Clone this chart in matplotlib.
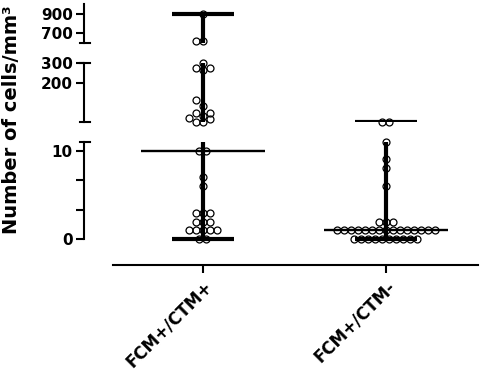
import numpy as np
import matplotlib
matplotlib.use('Agg')
import matplotlib.pyplot as plt

# data (cells/mm3)
groups = ['FCM+/CTM+', 'FCM+/CTM-']
ctm_pos = [0, 0, 1, 1, 1, 1, 1, 2, 2, 2, 3, 3, 3, 6, 7, 10, 10,
           12, 14, 27, 33, 43, 55, 57, 90, 119, 266, 274, 274, 300,
           620, 625, 900]
ctm_neg = [0, 0, 0, 0, 0, 0, 0, 0, 0, 0,
           1, 1, 1, 1, 1, 1, 1, 1, 1, 1, 1, 1, 1, 1, 1,
           2, 2, 2, 6, 8, 9, 11, 12, 12]
values = [ctm_pos, ctm_neg]

# broken y axis: segments from top to bottom
seg_limits = [(600, 1000), (12, 300), (0, 11)]
seg_ticks = [[700, 900], [200, 300], [0, 10]]
bottom_minor = [10 / 3, 20 / 3]

W, H = 482, 377
fig = plt.figure(figsize=(W / 100, H / 100), dpi=100)
plt.rcParams['font.family'] = 'DejaVu Sans'

left_px, right_px = 84, 478
xlim = (-0.65, 1.503)
xscale = (right_px - left_px) / (xlim[1] - xlim[0])
# pixel rows of each segment's upper / lower limit
seg_px = [(4, 43), (63, 122), (141.7, 239.3)]
bottom_margin = 0.25  # room below 0 so the min caps are not clipped

mk = 7.0  # marker spacing in px
cols = [0, -1, 1, -2, 2, -3, 3, -4, 4, -5, 5, -6, 6]


def free(cands, y, placed, d):
    return all(np.hypot(c - px, y - py) >= 0.85 * d
               for c in cands for px, py in placed)


def swarm_offsets(vals, px_per_unit, d):
    # equal values sit in one centred row, otherwise nearest free column
    vals = np.asarray(vals, float)
    out = np.zeros(len(vals))
    placed = []
    for v in np.unique(vals):
        idx = np.where(vals == v)[0]
        y = v * px_per_unit
        base = (np.arange(len(idx)) - (len(idx) - 1) / 2) * d
        if free(base, y, placed, d):
            out[idx] = base
            placed += [(c, y) for c in base]
            continue
        for i in idx:
            for k in cols:
                if free([k * d], y, placed, d):
                    break
            out[i] = k * d
            placed.append((k * d, y))
    return out


for i, (lo, hi) in enumerate(seg_limits):
    top, bot = seg_px[i]
    ppu = (bot - top) / (hi - lo)
    ylo = lo - bottom_margin if i == 2 else lo
    bot_ax = bot + (lo - ylo) * ppu
    ax = fig.add_axes([left_px / W, 1 - bot_ax / H,
                       (right_px - left_px) / W, (bot_ax - top) / H])
    ax.set_xlim(*xlim)
    ax.set_ylim(ylo, hi)
    ax.patch.set_visible(False)
    for s in ['top', 'right']:
        ax.spines[s].set_visible(False)
    ax.spines['left'].set_linewidth(1.5)
    ax.spines['left'].set_bounds(lo, hi)
    ax.set_yticks(seg_ticks[i])
    ax.set_yticklabels([str(t) for t in seg_ticks[i]], fontsize=11,
                       fontweight='bold')
    ax.tick_params(axis='y', length=6, width=1.5, pad=2)

    def inside(v):
        return lo <= v <= hi

    for g, vals in enumerate(values):
        vals = np.asarray(vals, float)
        sel = vals[(vals >= lo) & (vals <= hi)]
        offs = swarm_offsets(sel, ppu, mk) / xscale
        ax.plot(g + offs, sel, 'o', ms=5, mfc='none', mec='black',
                mew=0.9, clip_on=False, zorder=2)
        vmin, vmax, med = vals.min(), vals.max(), np.median(vals)
        ax.vlines(g, vmin, vmax, color='black', lw=3, zorder=3)
        for c in [vmin, vmax]:
            if inside(c):
                ax.hlines(c, g - 0.167, g + 0.167, color='black', lw=3,
                          zorder=3)
        if inside(med):
            ax.hlines(med, g - 0.338, g + 0.338, color='black', lw=1.7,
                      zorder=3)

    # little end caps where the axis is broken
    caps = {0: [lo], 1: [lo, hi], 2: [hi]}[i]
    wfrac = right_px - left_px
    for c in caps:
        ax.plot([-4 / wfrac, 6 / wfrac], [c, c], color='black', lw=1.5,
                transform=ax.get_yaxis_transform(), clip_on=False)

    if i < 2:
        ax.spines['bottom'].set_visible(False)
        ax.set_xticks([])
    else:
        ax.set_yticks(bottom_minor, minor=True)
        ax.tick_params(axis='y', which='minor', length=6, width=1.5)
        ax.spines['bottom'].set_position(('outward', 17))
        ax.spines['bottom'].set_linewidth(1.5)
        ax.spines['bottom'].set_bounds(-0.49, xlim[1])
        ax.set_xticks([0, 1])
        ax.set_xticklabels(groups, rotation=45, ha='right',
                           rotation_mode='anchor', fontsize=12,
                           fontweight='bold')
        ax.tick_params(axis='x', length=6, width=1.5, pad=3)

fig.text(12 / W, 1 - 120 / H, 'Number of cells/mm³', rotation=90,
         ha='center', va='center', fontsize=14, fontweight='bold')

fig.savefig('out.png', dpi=100)
